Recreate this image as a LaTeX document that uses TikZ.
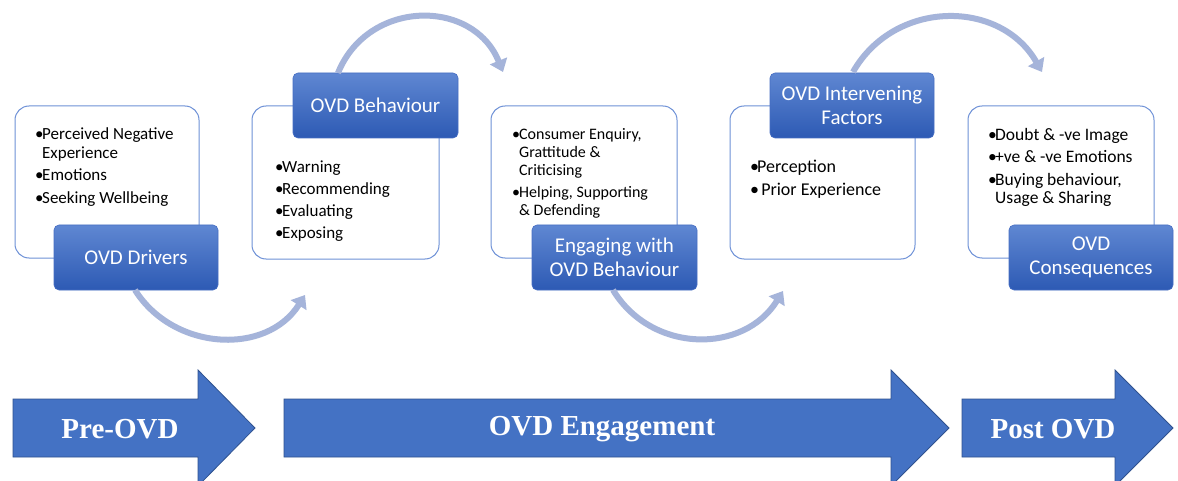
\documentclass[tikz,border=0pt]{standalone}
\usepackage{fontspec}
\setmainfont{Carlito}
\newfontfamily\tnr{Liberation Serif}
\usetikzlibrary{arrows.meta}
\definecolor{boxline}{RGB}{110,145,215}
\definecolor{blueTop}{RGB}{95,135,210}
\definecolor{blueBot}{RGB}{45,90,180}
\definecolor{blueEdge}{RGB}{70,110,195}
\definecolor{arcCol}{RGB}{165,180,218}
\definecolor{arrowFill}{RGB}{68,114,196}
\definecolor{arrowEdge}{RGB}{47,82,143}
\newcommand{\itm}{\makebox[7pt][l]{•}}
\newcommand{\cnt}{\hspace*{7pt}}
\newcommand{\lst}[1]{\begin{tabular}[t]{@{}l@{}}#1\end{tabular}}
\begin{document}
\begin{tikzpicture}[x=1pt,y=-1pt,
  wbox/.style={draw=boxline, line width=1pt, rounded corners=14pt, fill=white, inner sep=0pt},
  bbox/.style={rounded corners=5pt, top color=blueTop, bottom color=blueBot, draw=blueEdge, line width=0.6pt,
     text=white, font=\fontsize{21}{24}\selectfont, align=center, inner sep=0pt},
  items/.style={anchor=base west, inner sep=0pt, font=\fontsize{17}{18.5}\selectfont},
  flow/.style={line width=6pt, draw=arcCol, -{Triangle[width=18pt,length=12pt]}},
  big/.style={fill=arrowFill, draw=arrowEdge, line width=0.8pt},
  biglabel/.style={text=white, inner sep=0pt, font=\tnr\bfseries\fontsize{29}{32}\selectfont}]
\clip (0,0) rectangle (1178,481);
\fill[white] (0,0) rectangle (1178,481);

% curved connectors (behind boxes)
\coordinate (a1s) at (135,290); \coordinate (a1e) at (305,295);
\coordinate (a2s) at (338,73);  \coordinate (a2e) at (503,72);
\coordinate (a3s) at (613,290); \coordinate (a3e) at (783,291);
\coordinate (a4s) at (853,72);  \coordinate (a4e) at (1042,72);

% white boxes
\node[wbox, minimum width=184pt, minimum height=152pt] (w1) at (107,182) {};
\node[wbox, minimum width=187pt, minimum height=153pt] (w2) at (345.5,182.5) {};
\node[wbox, minimum width=186pt, minimum height=152pt] (w3) at (584,182) {};
\node[wbox, minimum width=185pt, minimum height=153pt] (w4) at (822.5,182.5) {};
\node[wbox, minimum width=186pt, minimum height=152pt] (w5) at (1061,182) {};

% item lists
\node[items] (t1) at (35,140) {\lst{\itm Perceived Negative\\ \cnt Experience\\[4pt] \itm Emotions\\[4pt] \itm Seeking Wellbeing}};
\node[items] (t2) at (275,173) {\lst{\itm Warning\\[3.5pt] \itm Recommending\\[3.5pt] \itm Evaluating\\[3.5pt] \itm Exposing}};
\node[items, font=\fontsize{16}{18}\selectfont] (t3) at (512,140) {\lst{\itm Consumer Enquiry,\\ \cnt Grattitude \&\\ \cnt Criticising\\[4pt] \itm Helping, Supporting\\ \cnt \& Defending}};
\node[items, font=\fontsize{18}{19}\selectfont] (t4) at (750,173) {\lst{\itm Perception\\[4pt] \itm\ Prior Experience}};
\node[items, font=\fontsize{17.5}{18.5}\selectfont] (t5) at (988,141) {\lst{\itm Doubt \& -ve Image\\[3.5pt] \itm +ve \& -ve Emotions\\[4pt] \itm Buying behaviour,\\ \cnt Usage \& Sharing}};

% blue title boxes
\node[bbox, minimum width=164pt, minimum height=65pt] (b1) at (136,257.5) {OVD Drivers};
\node[bbox, minimum width=165pt, minimum height=65pt] (b2) at (375.5,105.5) {OVD Behaviour};
\node[bbox, minimum width=165pt, minimum height=65pt] (b3) at (614.5,257.5) {Engaging with\\OVD Behaviour};
\node[bbox, minimum width=164pt, minimum height=65pt] (b4) at (852,105.5) {OVD Intervening\\Factors};
\node[bbox, minimum width=164pt, minimum height=65pt] (b5) at (1091,257.5) {OVD\\Consequences};

\draw[flow] (a1s) .. controls (173.5,351) and (266.5,356) .. (a1e);
\draw[flow] (a2s) .. controls (368,-1) and (473,-2) .. (a2e);
\draw[flow] (a3s) .. controls (652,354) and (744,354) .. (a3e);
\draw[flow] (a4s) .. controls (894.5,-1) and (1000.5,-1) .. (a4e);

% phase arrows
\draw[big] (13,399) -- (198,399) -- (198,370) -- (255,428) -- (198,486) -- (198,457) -- (13,457) -- cycle;
\draw[big] (284,399) -- (891,399) -- (891,370) -- (949,428) -- (891,486) -- (891,457) -- (284,457) -- cycle;
\draw[big] (962,399) -- (1115,399) -- (1115,370) -- (1173,428) -- (1115,486) -- (1115,457) -- (962,457) -- cycle;
\node[biglabel] (p1) at (120,429) {Pre-OVD};
\node[biglabel] (p2) at (602,429) {OVD Engagement};
\node[biglabel] (p3) at (1053,429) {Post OVD};
\end{tikzpicture}
\end{document}
